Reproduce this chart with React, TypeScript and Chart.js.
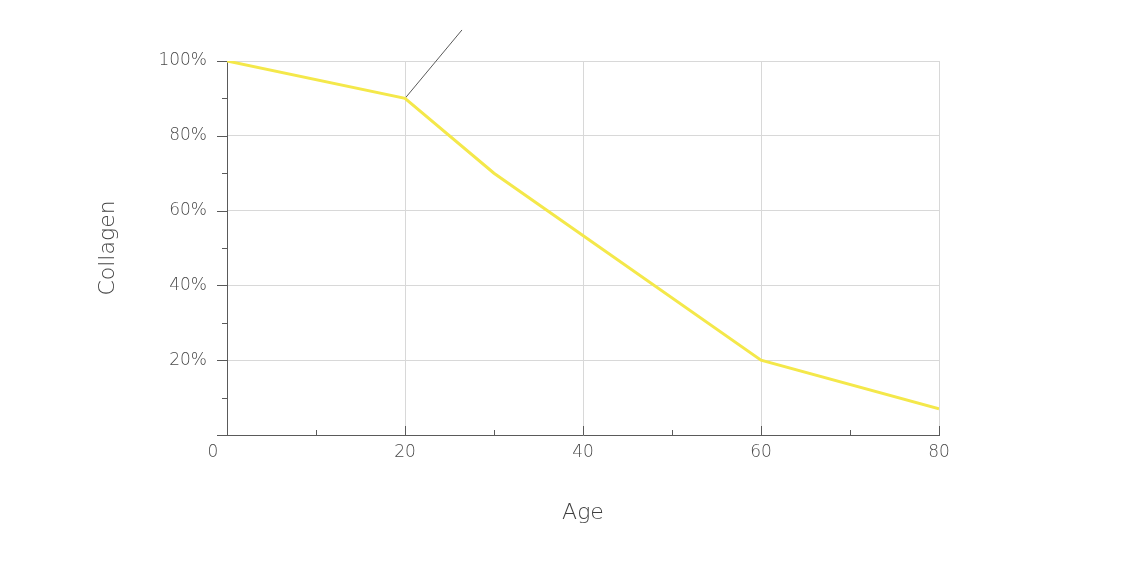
import React, { useEffect, useRef } from "react";
import { Chart, registerables } from "chart.js";

Chart.register(...registerables);

// ---- data ----
const ages = [0, 20, 30, 60, 80];
const collagen = [100, 90, 70, 20, 7];
const leaderAges = [20, 26.4];
const leaderValues = [90, 108.3];
const yMinorTicks = [0, 10, 20, 30, 40, 50, 60, 70, 80, 90, 100];
const xMinorTicks = [10, 20, 30, 40, 50, 60, 70, 80];
const originLabel = "0";
const xTitle = "Age";
const yTitle = "Collagen";

const FONT = '"DejaVu Sans", Lato, sans-serif';
const FONT_WEIGHT = "200";
const LINE_COLOR = "#f4e84a";
const AXIS_COLOR = "#5a5a5a";
const GRID_COLOR = "#d8d8d8";
const TICK_COLOR = "#4a4a4a";
const TITLE_COLOR = "#3f3f3f";
const TICK_FONT_SIZE = 17;
const X_TICK_PADDING = 7;

const customTicks = {
  id: "customTicks",
  afterDraw(chart: any) {
    const { ctx, scales } = chart;
    const x = scales.x;
    const y = scales.y;
    ctx.save();
    ctx.strokeStyle = AXIS_COLOR;
    ctx.lineWidth = 1;
    ctx.beginPath();
    for (const v of yMinorTicks) {
      const major = v % 20 === 0;
      const py = Math.round(y.getPixelForValue(v)) + 0.5;
      ctx.moveTo(x.left - (major ? 10 : 5), py);
      ctx.lineTo(x.left, py);
    }
    for (const v of xMinorTicks) {
      const major = v % 20 === 0;
      const px = Math.round(x.getPixelForValue(v)) + 0.5;
      ctx.moveTo(px, y.bottom);
      ctx.lineTo(px, y.bottom - (major ? 9 : 5));
    }
    ctx.stroke();
    ctx.fillStyle = TICK_COLOR;
    ctx.font = `${FONT_WEIGHT} ${TICK_FONT_SIZE}px ${FONT}`;
    ctx.textAlign = "center";
    ctx.textBaseline = "middle";
    ctx.fillText(
      originLabel,
      x.getPixelForValue(0) - 14,
      y.bottom + X_TICK_PADDING + (TICK_FONT_SIZE * 1.2) / 2
    );
    ctx.restore();
  },
};

export default function App() {
  const ref = useRef<HTMLCanvasElement>(null);
  useEffect(() => {
    if (!ref.current) return;
    const chart = new Chart(ref.current, {
      type: "line",
      data: {
        datasets: [
          {
            data: ages.map((a, i) => ({ x: a, y: collagen[i] })),
            borderColor: LINE_COLOR,
            borderWidth: 3,
            pointRadius: 0,
            tension: 0,
            fill: false,
          },
          {
            data: leaderAges.map((a, i) => ({ x: a, y: leaderValues[i] })),
            borderColor: AXIS_COLOR,
            borderWidth: 1,
            pointRadius: 0,
            clip: false as any,
            fill: false,
          },
        ],
      },
      options: {
        animation: false,
        responsive: false,
        layout: { padding: { left: 80, right: 191, top: 53, bottom: 44 } },
        plugins: { legend: { display: false }, tooltip: { enabled: false } },
        scales: {
          x: {
            type: "linear",
            min: 0,
            max: 80,
            afterFit: (s: any) => {
              s.height = 91;
            },
            ticks: {
              stepSize: 20,
              padding: X_TICK_PADDING,
              color: TICK_COLOR,
              font: { family: FONT, size: TICK_FONT_SIZE, weight: FONT_WEIGHT as any },
              callback: (v: any) => (v === 0 ? "" : String(v)),
              maxRotation: 0,
            },
            grid: { color: GRID_COLOR, drawTicks: false },
            border: { color: AXIS_COLOR, width: 1 },
            title: {
              display: true,
              text: xTitle,
              color: TITLE_COLOR,
              font: { family: FONT, size: 22, weight: FONT_WEIGHT as any },
              padding: { top: 0, bottom: 0 },
            },
          },
          y: {
            min: 0,
            max: 100,
            afterFit: (s: any) => {
              s.width = 139;
            },
            ticks: {
              stepSize: 20,
              padding: 20,
              color: TICK_COLOR,
              font: { family: FONT, size: TICK_FONT_SIZE, weight: FONT_WEIGHT as any },
              callback: (v: any) => (v === 0 ? "" : v + "%"),
            },
            grid: { color: GRID_COLOR, drawTicks: false },
            border: { color: AXIS_COLOR, width: 1 },
            title: {
              display: true,
              text: yTitle,
              color: TITLE_COLOR,
              font: { family: FONT, size: 22, weight: FONT_WEIGHT as any },
              padding: { top: 7, bottom: 0 },
            },
          },
        },
      },
      plugins: [customTicks],
    });
    return () => chart.destroy();
  }, []);
  return (
    <div style={{ width: 1122, height: 562 }}>
      <canvas ref={ref} width={1122} height={562} style={{ display: "block" }} />
    </div>
  );
}
